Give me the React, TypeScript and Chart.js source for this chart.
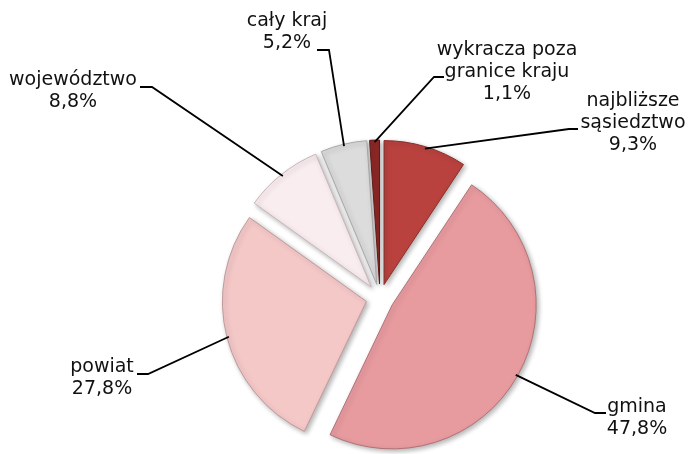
import React, { useEffect, useRef } from 'react';
import { Chart, registerables } from 'chart.js';

Chart.register(...registerables);

// ---- data ----
const categories: string[][] = [
  ['najbliższe', 'sąsiedztwo'],
  ['gmina'],
  ['powiat'],
  ['województwo'],
  ['cały kraj'],
  ['wykracza poza', 'granice kraju'],
];
const values: number[] = [9.3, 47.8, 27.8, 8.8, 5.2, 1.1];
const percentLabels: string[] = values.map((v) => v.toFixed(1).replace('.', ',') + '%');

// ---- styles ----
const sliceColors = ['#BA423E', '#E89B9F', '#F5C8C8', '#FAEDF0', '#DCDCDC', '#8C2826'];
const sliceBorders = ['#8A2E2B', '#B07276', '#BF9A9A', '#C8B6B9', '#A8A8A8', '#5E1A19'];
const EXPLODE = 14;
const RADIUS = 144;
const FONT = '19px "DejaVu Sans", Verdana, sans-serif';
const LINE_H = 22;

// label placement: text centre x, first line centre y, leader start and elbow
const labelLayout = [
  { x: 633, y: 101, from: [578, 129], elbow: [569, 129] },
  { x: 637, y: 407, from: [606, 413], elbow: [595, 413] },
  { x: 102, y: 367, from: [137, 374], elbow: [148, 374] },
  { x: 73, y: 80, from: [140, 87], elbow: [152, 87] },
  { x: 287, y: 21, from: [317, 50], elbow: [329, 50] },
  { x: 507, y: 50, from: [444, 77], elbow: [434, 77] },
];

const explodePlugin = {
  id: 'explodeSlices',
  beforeDatasetDraw(chart: any, args: any) {
    const ctx = chart.ctx;
    args.meta.data.forEach((arc: any) => {
      const { startAngle, endAngle } = arc.getProps(['startAngle', 'endAngle'], true);
      const mid = (startAngle + endAngle) / 2;
      ctx.save();
      ctx.shadowColor = 'rgba(0,0,0,0.3)';
      ctx.shadowBlur = 5;
      ctx.shadowOffsetX = 2;
      ctx.shadowOffsetY = 2;
      ctx.translate(Math.cos(mid) * EXPLODE, Math.sin(mid) * EXPLODE);
      arc.draw(ctx);
      ctx.restore();
    });
    return false;
  },
};

const labelPlugin = {
  id: 'sliceLabels',
  afterDatasetsDraw(chart: any) {
    const ctx = chart.ctx;
    const meta = chart.getDatasetMeta(0);
    meta.data.forEach((arc: any, i: number) => {
      const { x, y, startAngle, endAngle, outerRadius } = arc.getProps(
        ['x', 'y', 'startAngle', 'endAngle', 'outerRadius'],
        true
      );
      const mid = (startAngle + endAngle) / 2;
      const r = outerRadius - 2 + EXPLODE;
      const px = x + Math.cos(mid) * r;
      const py = y + Math.sin(mid) * r;
      const lay = labelLayout[i];
      ctx.save();
      ctx.strokeStyle = '#000';
      ctx.lineWidth = 1.8;
      ctx.beginPath();
      ctx.moveTo(lay.from[0], lay.from[1]);
      ctx.lineTo(lay.elbow[0], lay.elbow[1]);
      ctx.lineTo(px, py);
      ctx.stroke();
      ctx.fillStyle = '#111';
      ctx.font = FONT;
      ctx.textAlign = 'center';
      ctx.textBaseline = 'middle';
      const lines = [...categories[i], percentLabels[i]];
      lines.forEach((t, j) => ctx.fillText(t, lay.x, lay.y + j * LINE_H));
      ctx.restore();
    });
  },
};

export default function App() {
  const ref = useRef<HTMLCanvasElement | null>(null);
  useEffect(() => {
    if (!ref.current) return;
    const chart = new Chart(ref.current, {
      type: 'pie',
      data: {
        labels: categories.map((c) => c.join(' ')),
        datasets: [
          {
            data: values,
            backgroundColor: sliceColors,
            borderColor: sliceBorders,
            borderWidth: 1,
          },
        ],
      },
      options: {
        responsive: false,
        animation: false,
        devicePixelRatio: 1,
        radius: RADIUS,
        layout: { padding: { left: 150, right: 79, top: 142, bottom: 0 } },
        plugins: {
          legend: { display: false },
          tooltip: { enabled: false },
        },
        events: [],
      } as any,
      plugins: [explodePlugin, labelPlugin],
    });
    return () => chart.destroy();
  }, []);
  return (
    <div style={{ position: 'fixed', left: 0, top: 0, width: 689, height: 454, background: '#fff' }}>
      <canvas ref={ref} width={689} height={454} />
    </div>
  );
}
